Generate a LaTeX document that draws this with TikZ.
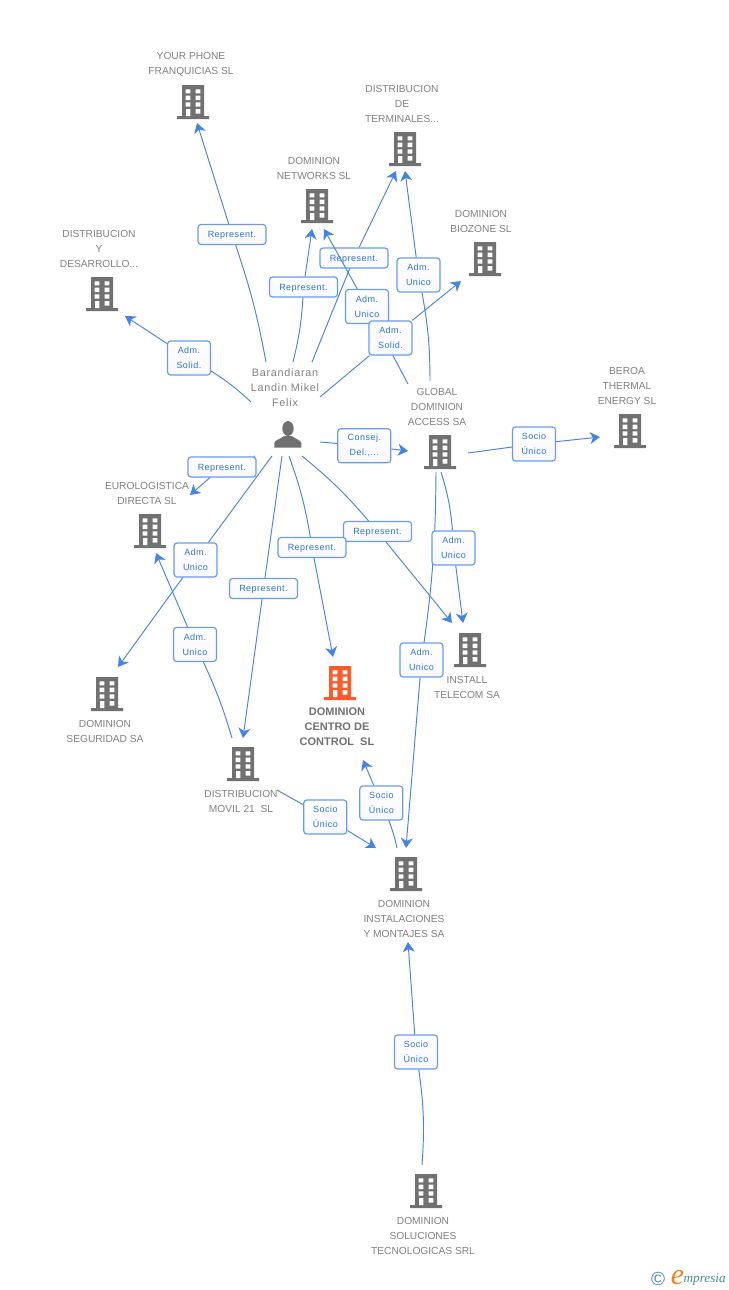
\documentclass[tikz,border=0pt]{standalone}
\usepackage{fontspec}
\setmainfont{Liberation Sans}
\newfontfamily\tagfont[LetterSpace=5.5]{Liberation Sans}
\newfontfamily\persfont[LetterSpace=7]{Liberation Sans}
\newfontfamily\logofont{Liberation Serif}
\usetikzlibrary{arrows.meta,fit}
\definecolor{linkblue}{RGB}{70,132,226}
\definecolor{tagedge}{RGB}{104,156,232}
\definecolor{tagtext}{RGB}{45,116,218}
\definecolor{firmgray}{RGB}{113,113,113}
\definecolor{firmtext}{RGB}{128,128,128}
\definecolor{firmorange}{RGB}{255,90,42}
\definecolor{logoteal}{RGB}{74,138,160}
\definecolor{logoorange}{RGB}{245,130,30}
\tikzset{
  pics/block/.style={code={
    \fill[#1] (-11,-17) rectangle (11,14) (-16,14) rectangle (16,17);
    \fill[white] (-7.3,-12.7) rectangle (-2.7,-8.7) (2.7,-12.7) rectangle (7.3,-8.7)
      (-7.3,-6.3) rectangle (-2.7,-2) (2.7,-6.3) rectangle (7.3,-2)
      (-7.3,.3) rectangle (-2.7,4.7) (2.7,.3) rectangle (7.3,4.7)
      (-7,7) rectangle (-2.7,14) (2.7,7) rectangle (7.3,11.5);
  }},
  firmbox/.style={rectangle, inner sep=0pt, outer sep=0pt},
  firmtxt/.style={inner sep=0pt, align=center, text=firmtext, yshift=-1pt, font=\fontsize{10.2}{15}\selectfont},
  tag/.style={rectangle, rounded corners=3pt, draw=tagedge, line width=1.2pt, top color=white,
    bottom color=blue!3!white, inner sep=0pt, align=center, text=tagtext,
    font=\tagfont\fontsize{9}{15}\selectfont, execute at begin node={\rule{0pt}{8.5pt}}},
  repr/.style={tag, minimum width=68pt, minimum height=20pt},
  adm/.style={tag, minimum width=43pt, minimum height=34pt},
  link/.style={color=linkblue, line width=.95pt},
  arr/.style={-{Stealth[length=10pt,width=12pt,inset=3pt]}}
}
\begin{document}
\begin{tikzpicture}[x=1pt,y=-1pt]
  \useasboundingbox (0,0) rectangle (728,1290);
  % firms
  \node (yp) [firmbox, fit={(148,48) (233,123)}] {};
  \node (yptxt) [firmtxt] at (191,63.5) {YOUR PHONE\\FRANQUICIAS SL};
  \pic (ypicon) at (193,102) {block=firmgray};
  \node (dt) [firmbox, fit={(366,82) (437,171)}] {};
  \node (dttxt) [firmtxt] at (402,103) {DISTRIBUCION\\DE\\TERMINALES...};
  \pic (dticon) at (405,149) {block=firmgray};
  \node (nw) [firmbox, fit={(277,154) (351,229)}] {};
  \node (nwtxt) [firmtxt] at (314,167.5) {DOMINION\\NETWORKS SL};
  \pic (nwicon) at (317,206) {block=firmgray};
  \node (bz) [firmbox, fit={(451,207) (512,281)}] {};
  \node (bztxt) [firmtxt] at (481,220.5) {DOMINION\\BIOZONE SL};
  \pic (bzicon) at (485,259) {block=firmgray};
  \node (dd) [firmbox, fit={(59,227) (134,316)}] {};
  \node (ddtxt) [firmtxt] at (99,248) {DISTRIBUCION\\Y\\DESARROLLO...};
  \pic (ddicon) at (102,294) {block=firmgray};
  \node (be) [firmbox, fit={(600,365) (657,450)}] {};
  \node (betxt) [firmtxt] at (627,385) {BEROA\\THERMAL\\ENERGY SL};
  \pic (beicon) at (630,431) {block=firmgray};
  \node (gd) [firmbox, fit={(408,381) (468,472)}] {};
  \node (gdtxt) [firmtxt] at (437,406) {GLOBAL\\DOMINION\\ACCESS SA};
  \pic (gdicon) at (440,452) {block=firmgray};
  \node (eu) [firmbox, fit={(106,478) (190,553)}] {};
  \node (eutxt) [firmtxt] at (147,492.5) {EUROLOGISTICA\\DIRECTA SL};
  \pic (euicon) at (150,531) {block=firmgray};
  \node (se) [firmbox, fit={(66,667) (143,745)}] {};
  \node (setxt) [firmtxt] at (105,730.5) {DOMINION\\SEGURIDAD SA};
  \pic (seicon) at (107,694) {block=firmgray};
  \node (it) [firmbox, fit={(435,623) (500,700)}] {};
  \node (ittxt) [firmtxt] at (467,686.5) {INSTALL\\TELECOM SA};
  \pic (iticon) at (470,650) {block=firmgray};
  \node (cc) [firmbox, fit={(298,657) (380,760)}] {};
  \node (cctxt) [firmtxt, text=firmgray, font=\bfseries\fontsize{11}{15}\selectfont] at (337,726) {DOMINION\\CENTRO DE\\CONTROL~~SL};
  \pic (ccicon) at (340,683) {block=firmorange};
  \node (mo) [firmbox, fit={(207,738) (277,815)}] {};
  \node (motxt) [firmtxt] at (241,800.5) {DISTRIBUCION\\MOVIL 21~~SL};
  \pic (moicon) at (243,764) {block=firmgray};
  \node (di) [firmbox, fit={(363,848) (446,942)}] {};
  \node (ditxt) [firmtxt] at (404,918) {DOMINION\\INSTALACIONES\\Y MONTAJES SA};
  \pic (diicon) at (406,874) {block=firmgray};
  \node (so) [firmbox, fit={(372,1165) (474,1258)}] {};
  \node (sotxt) [firmtxt] at (423,1235) {DOMINION\\SOLUCIONES\\TECNOLOGICAS SRL};
  \pic (soicon) at (426,1191) {block=firmgray};
  % person
  \node (pers) [firmbox, fit={(251,362) (320,456)}] {};
  \node (perstxt) [firmtxt, font=\persfont\fontsize{10.8}{15}\selectfont] at (285,387) {Barandiaran\\Landin Mikel\\Felix};
  \fill[firmgray] (288,428.5) ellipse (5.7 and 7.5);
  \fill[firmgray] (274.3,447.7) -- (274.3,443) .. controls (274.5,440) and (281,439) .. (284,436)
    -- (292,436) .. controls (295,439) and (301,440) .. (301.3,443) -- (301.3,447.7) -- cycle;
  % links, in stacking order
  \node (t1) [repr] at (232,234.5) {Represent.};
  \path[link] ([xshift=-19.5pt]pers.north) edge[bend right=4] (t1)
    (t1) edge[arr] ([xshift=6.5pt]yp.south);
  \node (t2) [repr] at (303.5,287) {Represent.};
  \path[link] ([xshift=7.5pt]pers.north) edge[bend right=5] (t2)
    (t2) edge[arr] ([xshift=-2pt]nw.south);
  \node (t3) [repr] at (354,258) {Represent.};
  \path[link] ([xshift=26.5pt]pers.north) edge (t3)
    (t3) edge[arr] ([xshift=-5.5pt]dt.south);
  \path[link] ([yshift=-3pt]gd.north west) edge (367,306.5);
  \node (t4) [adm] at (367,306.5) {Adm.\\Unico};
  \path[link] (t4) edge[arr] ([xshift=10pt]nw.south);
  \node (t5) [adm] at (418.5,275) {Adm.\\Unico};
  \path[link] ([xshift=-8pt]gd.north) edge[bend right=5] (t5)
    (t5) edge[arr] ([xshift=3.5pt]dt.south);
  \node (t6) [adm] at (390.5,338) {Adm.\\Solid.};
  \path[link] ([yshift=12pt]pers.east) edge (t6)
    (t6) edge[arr] ([xshift=-20.5pt]bz.south);
  \node (t7) [adm] at (189,358) {Adm.\\Solid.};
  \path[link] ([yshift=7pt]pers.west) edge[bend right=5] (t7)
    (t7) edge[arr] ([xshift=28.5pt]dd.south);
  \node (t8) [adm, minimum width=53pt] at (364.3,445.7) {Consej.\\Del.,...};
  \path[link] ([yshift=-33pt]pers.east) edge (t8)
    (t8) edge[arr] ([yshift=-24.5pt]gd.west);
  \node (t9) [adm] at (534,444) {Socio\\Único};
  \path[link] ([yshift=-26.5pt]gd.east) edge (t9)
    (t9) edge[arr] ([yshift=-29.5pt]be.west);
  \node (t10) [repr] at (222,467) {Represent.};
  \path[link] ([xshift=-30.5pt]pers.south) edge (t10)
    (t10) edge[arr] ([yshift=20.5pt]eu.east);
  \node (t11) [adm] at (195.5,560) {Adm.\\Unico};
  \path[link] ([xshift=-13.5pt]pers.south) edge (t11)
    (t11) edge[arr] ([xshift=13.5pt]se.north);
  \node (t12) [adm] at (195,644.5) {Adm.\\Unico};
  \path[link] ([xshift=-10pt]mo.north) edge[bend right=4] (t12)
    (t12) edge[arr] ([xshift=8pt]eu.south);
  \node (t13) [repr] at (263.5,588.5) {Represent.};
  \path[link] ([xshift=-3.5pt]pers.south) edge (t13)
    (t13) edge[arr] ([xshift=1pt]mo.north);
  \node (t14) [repr] at (377.5,531.5) {Represent.};
  \path[link] ([xshift=16.5pt]pers.south) edge[bend left=5] (t14)
    (t14) edge[arr] ([xshift=-15.5pt]it.north);
  \node (t15) [repr] at (312,547.5) {Represent.};
  \path[link] ([xshift=3.5pt]pers.south) edge[bend left=5] (t15)
    (t15) edge[arr] ([xshift=-6pt]cc.north);
  \path[link] ([xshift=-2pt]gd.south) edge[bend left=4] (421.5,660);
  \node (t16) [adm] at (421.5,660) {Adm.\\Unico};
  \path[link] (t16) edge[arr] ([xshift=1.5pt]di.north);
  \node (t17) [adm] at (453.5,548) {Adm.\\Unico};
  \path[link] ([xshift=3pt]gd.south) edge[bend left=6] (t17)
    (t17) edge[arr] ([xshift=-4.5pt]it.north);
  \node (t18) [adm] at (381.3,803) {Socio\\Único};
  \path[link] ([xshift=-7.5pt]di.north) edge[bend right=4] (t18)
    (t18) edge[arr] ([xshift=24pt]cc.south);
  \node (t19) [adm] at (325.3,817) {Socio\\Único};
  \path[link] ([yshift=-13.5pt]mo.east) edge (t19)
    (t19) edge[arr] ([xshift=-28.5pt]di.north);
  \node (t20) [adm] at (416,1052) {Socio\\Único};
  \path[link] ([xshift=-1pt]so.north) edge[bend right=6] (t20)
    (t20) edge[arr] ([xshift=3.5pt]di.south);
  % logo
  \node (logoc) [inner sep=0pt, text=logoteal, font=\fontsize{19}{19}\selectfont] at (658,1278.5) {©};
  \node (logoe) [inner sep=0pt, text=logoorange, font=\logofont\itshape\fontsize{30}{30}\selectfont] at (677.5,1277.5) {e};
  \node (logot) [inner sep=0pt, text=logoteal, anchor=base west, font=\logofont\itshape\fontsize{13.2}{13}\selectfont] at (683.5,1282) {mpresia};
\end{tikzpicture}
\end{document}
